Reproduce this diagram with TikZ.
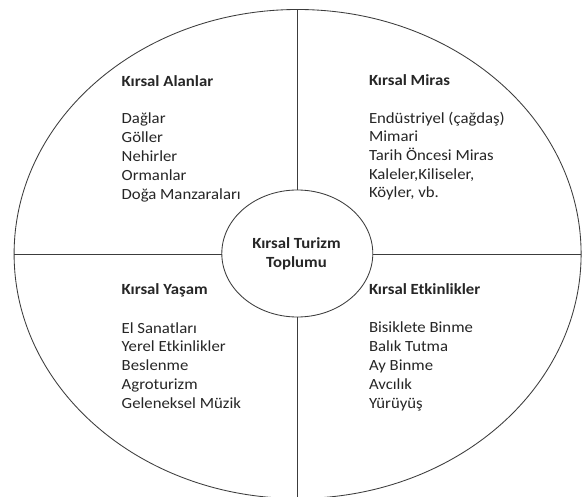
\documentclass[tikz,border=0pt]{standalone}
\usepackage{fontspec}
\setmainfont{Carlito}[FakeStretch=1.08]
\usetikzlibrary{shapes.geometric}
\definecolor{ink}{HTML}{262626}
\definecolor{linec}{HTML}{3C3C3C}
\begin{document}
\begin{tikzpicture}[x=1pt,y=-1pt,
  every node/.style={inner sep=0pt,outer sep=0pt},
  ring/.style={draw=linec,line width=0.85pt,ellipse},
  divider/.style={draw=linec,line width=0.85pt},
  txt/.style={font=\fontsize{15.5}{19}\selectfont,text=ink,anchor=base west},
  hd/.style={font=\fontsize{15.5}{19}\selectfont\bfseries,text=ink,anchor=base west},
  hdc/.style={font=\fontsize{15.5}{19}\selectfont\bfseries,text=ink,anchor=base}]
\useasboundingbox[fill=white] (0,0) rectangle (582,497);
\node[ring,minimum width=567pt,minimum height=489pt] (outer) at (297.6,254) {};
\node[ring,minimum width=151pt,minimum height=127pt] (hub) at (297.3,253.5) {};
\draw[divider] (outer.north) -- (outer.north |- hub.north);
\draw[divider] (outer.south |- hub.south) -- (outer.south);
\draw[divider] (outer.west) -- (outer.west -| hub.west);
\draw[divider] (outer.east -| hub.east) -- (outer.east);
\node[hdc] (hub1) at (296.5,248.3) {Kırsal Turizm};
\node[hdc] (hub2) at (296.5,267.3) {Toplumu};
% top left
\node[hd] (tlh) at (121.7,86.3) {Kırsal Alanlar};
\foreach \t [count=\i] in {Dağlar,Göller,Nehirler,Ormanlar,Doğa Manzaraları}
  \node[txt] (tl\i) at (121.7,{124+19*(\i-1)}) {\t};
% top right
\node[hd] (trh) at (369,85.5) {Kırsal Miras};
\foreach \t [count=\i] in {Endüstriyel (çağdaş),Mimari,Tarih Öncesi Miras,{Kaleler,Kiliseler,},{Köyler, vb.}}
  \node[txt] (tr\i) at (369,{123.3+18.6*(\i-1)}) {\t};
% bottom left
\node[hd] (blh) at (121.7,295) {Kırsal Yaşam};
\foreach \t [count=\i] in {El Sanatları,Yerel Etkinlikler,Beslenme,Agroturizm,Geleneksel Müzik}
  \node[txt] (bl\i) at (121.7,{333.2+18.8*(\i-1)}) {\t};
% bottom right
\node[hd] (brh) at (369,294.3) {Kırsal Etkinlikler};
\foreach \t [count=\i] in {Bisiklete Binme,Balık Tutma,Ay Binme,Avcılık,Yürüyüş}
  \node[txt] (br\i) at (369,{332.7+18.9*(\i-1)}) {\t};
\end{tikzpicture}
\end{document}
